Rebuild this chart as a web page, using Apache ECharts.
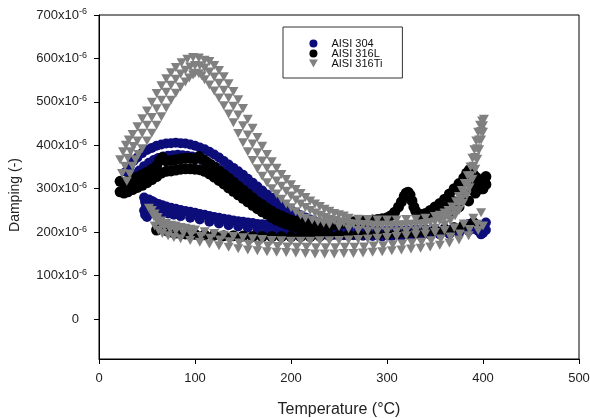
<!DOCTYPE html>
<html>
<head>
<meta charset="utf-8">
<script src="https://cdn.jsdelivr.net/npm/echarts@6/dist/echarts.min.js"></script>
<style>
  html, body { margin: 0; padding: 0; background: #fff; }
  #chart { width: 590px; height: 418px; }
</style>
</head>
<body>
<div id="chart"></div>
<script>
// tick values on the damping axis (x10^-6)
var yTicks = [0, 100, 200, 300, 400, 500, 600, 700];

// AISI 304: [temperature °C, damping x10^-6]
var aisi304 = [
  // upper arc, top edge
  [28,339],[32,352],[36,364],[40,372],[45,382],[50,389],[55,394],[60,399],[65,402],[70,404],[75,405],[80,406],[85,405],[90,404],[95,402],[100,399],[105,395],[110,391],[115,385],[120,379],[125,372],[130,364],[135,356],[140,348],[145,340],[150,332],[155,323],[160,314],[165,305],[170,296],[175,287],[180,279],[185,271],[190,264],[195,257],[200,251],[205,245],[210,239],[215,234],[220,229],[225,225],[230,221],[235,217],[240,214],
  // upper arc, bottom edge
  [30,312],[34,324],[38,334],[42,342],[47,352],[52,360],[57,366],[62,371],[67,374],[72,376],[77,377],[82,378],[87,377],[92,376],[97,374],[102,371],[107,367],[112,362],[117,356],[122,350],[127,343],[132,336],[137,328],[142,320],[147,312],[152,305],[157,296],[162,288],[167,279],[172,271],[177,262],[182,255],[187,247],[192,240],[197,234],[202,228],[207,222],[212,217],[217,213],[222,209],[227,206],[232,203],[237,200],
  // lower branch, top edge
  [47,280],[48,270],[49,260],[52,275],[55,272],[58,268],[62,265],[66,262],[70,259],[75,256],[80,254],[85,251],[90,249],[95,247],[100,245],[105,242],[110,240],[115,237],[120,235],[125,233],[130,231],[135,229],[140,227],[145,225],[150,224],[155,222],[160,221],[165,219],[170,218],[175,217],[180,216],[185,215],[190,214],[195,213],[200,212],[210,211],[220,210],[230,209],[240,208],[250,207],[260,207],[270,206],[280,205],[290,204],[300,204],[310,205],[320,205],[330,206],[340,207],[350,208],[360,209],[370,211],[380,214],[385,219],[390,222],[395,217],[400,212],[403,222],
  // lower branch, bottom edge
  [47,250],[48,240],[50,235],[53,245],[56,250],[60,251],[64,248],[68,245],[72,243],[78,240],[85,237],[95,233],[105,229],[115,224],[125,220],[135,216],[145,213],[155,210],[165,207],[175,205],[185,202],[195,200],[205,198],[215,197],[225,196],[235,195],[245,194],[255,193],[265,193],[275,192],[285,191],[295,190],[305,191],[315,191],[325,192],[335,193],[345,194],[355,195],[365,196],[375,198],[385,203],[390,208],[395,203],[400,198],[403,205],[398,195]
];

// AISI 316L
var aisi316L = [
  // upper arc, top edge
  [22,317],[26,314],[30,317],[35,322],[40,327],[45,332],[50,338],[55,345],[60,352],[63,364],[66,372],[70,364],[75,365],[80,367],[85,369],[90,370],[95,370],[100,369],[104,374],[108,368],[112,362],[116,356],[120,350],[125,341],[130,333],[135,324],[140,315],[145,306],[150,297],[155,288],[160,279],[165,270],[170,263],[175,255],[180,248],[185,242],[190,237],[195,232],[200,228],[205,225],[210,222],[215,220],[220,218],[225,216],[230,215],
  // upper arc, bottom edge
  [22,293],[26,290],[30,293],[35,298],[40,303],[45,308],[50,314],[55,321],[60,328],[65,336],[70,340],[75,341],[80,343],[85,345],[90,346],[95,346],[100,345],[105,344],[110,340],[115,334],[120,327],[125,319],[130,311],[135,302],[140,294],[145,286],[150,278],[155,270],[160,262],[165,254],[170,247],[175,241],[180,234],[185,228],[190,223],[195,219],[200,215],[205,212],[210,209],[215,207],[220,205],[225,204],[230,203],
  // high temperature part
  [235,212],[240,214],[245,217],[250,219],[255,221],[260,223],[265,224],[270,225],[275,226],[280,227],[285,228],[290,229],[295,231],[300,233],[304,238],[308,246],[312,258],[315,270],[318,283],[320,290],[322,292],[324,286],[326,272],[328,258],[330,248],[333,242],[336,240],[340,243],[345,250],[350,258],[355,266],[360,276],[365,288],[370,300],[375,312],[380,325],[383,336],[386,344],[388,340],[390,333],[393,326],[396,318],[399,312],[401,318],[403,328],[403,310],[400,300],[397,305],
  [335,232],[345,235],[355,240],[365,248],[375,258],[385,272],[392,290],[398,300],[350,245],[360,258],[370,270],[380,290],[388,310],
  // lower branch
  [60,205],[62,214],[64,222],[66,214],[68,206],[72,202],[76,200],[80,198],[90,196],[100,195],[110,194],[120,193],[130,192],[140,192],[150,191],[160,190],[170,190],[180,190],[190,190],[200,190],[210,190],[220,190],[230,191],[240,192],[250,193],[260,193],[270,194],[280,194],[290,195],[300,195],[310,196],[320,197],[330,198],[340,200],[350,203],[360,206],[370,210],[380,216],[390,222]
];

// AISI 316Ti
var aisi316Ti = [
  // upper arc, outer edge
  [22,367],[25,385],[28,400],[31,412],[35,425],[40,443],[45,461],[50,479],[55,499],[60,519],[65,537],[70,553],[75,567],[80,579],[86,590],[92,598],[98,602],[104,601],[110,596],[115,593],[120,584],[125,572],[130,558],[135,542],[140,524],[145,505],[150,485],[155,460],[160,439],[165,418],[170,398],[175,379],[180,362],[185,347],[190,333],[195,321],[200,309],[205,298],[210,289],[215,280],[220,272],[225,265],[230,259],[235,253],[240,248],[245,243],[250,240],[255,237],[260,232],[270,230],[280,229],[290,228],[300,228],[310,228],[320,229],[330,230],[340,232],[350,236],[355,239],[360,244],[364,250],[368,258],[372,270],[375,282],[378,296],[381,312],[384,330],[387,350],[389,370],[391,390],[393,410],[395,430],[397,446],[399,456],[401,460],
  // upper arc, middle
  [24,335],[27,352],[30,370],[33,385],[36,397],[40,410],[45,428],[50,446],[55,464],[60,484],[65,504],[70,522],[75,538],[80,552],[85,564],[90,573],[95,580],[100,584],[105,583],[110,578],[115,569],[120,557],[125,543],[130,527],[135,509],[140,490],[145,470],[150,445],[155,424],[160,403],[165,383],[170,364],[175,347],[180,332],[185,318],[190,306],[195,294],[200,283],[205,274],[210,265],[215,257],[220,250],[225,244],[230,239],[235,234],[240,230],[245,227],[250,224],[255,222],[260,220],[265,219],[270,218],[275,217],[280,217],[285,216],[290,216],[295,216],[300,216],[305,216],[310,216],[315,217],[320,217],[325,218],[330,218],[335,219],[340,220],[345,222],[350,224],[355,227],[360,232],[365,239],[370,249],[375,264],[378,277],[381,292],[384,310],[387,330],[390,352],[392,372],[394,392],[396,412],[398,432],[400,445],
  // upper arc, inner edge
  [29,317],[32,334],[35,352],[38,367],[41,379],[45,392],[50,410],[55,428],[60,446],[65,466],[70,486],[75,504],[80,520],[85,534],[90,546],[94,555],[98,562],[100,566],[104,565],[107,560],[110,551],[115,539],[120,525],[125,509],[130,491],[135,472],[140,452],[145,427],[150,406],[155,385],[160,365],[165,346],[170,329],[175,314],[180,300],[185,288],[190,276],[195,265],[200,256],[205,247],[210,239],[215,232],[222,228],[228,224],[234,221],[240,218],[250,213],[260,208],[270,204],[280,202],[290,201],[300,201],[310,201],[320,202],[330,203],[340,205],[350,209],[360,217],[366,227],[371,238],[375,250],[379,266],[383,284],[386,302],[389,322],[392,345],[394,368],[396,390],[398,412],[400,430],
  // lower branch, top edge
  [52,255],[55,250],[58,242],[61,234],[65,226],[70,220],[75,216],[80,214],[85,211],[90,209],[95,207],[100,205],[110,201],[120,197],[130,193],[140,190],[150,187],[160,185],[170,183],[180,181],[190,180],[200,179],[210,179],[220,179],[230,180],[240,180],[250,181],[260,182],[270,183],[280,184],[290,186],[300,188],[310,190],[320,192],[330,194],[340,196],[350,199],[360,204],[370,210],[380,219],[390,232],[398,245],
  // lower branch, middle
  [57,236],[60,228],[64,219],[68,212],[74,206],[80,202],[88,198],[96,194],[106,190],[116,186],[126,182],[136,178],[146,175],[156,172],[166,170],[176,168],[186,167],[196,166],[206,165],[216,165],[226,164],[236,164],[246,164],[256,165],[266,165],[276,166],[286,168],[296,169],[306,171],[316,173],[326,175],[336,177],[346,180],[356,184],[366,189],[376,196],[386,206],[394,218],
  // lower branch, bottom edge
  [58,214],[62,204],[66,197],[72,192],[78,188],[85,185],[95,181],[105,177],[115,173],[125,169],[135,165],[145,162],[155,159],[165,157],[175,155],[185,154],[195,153],[205,152],[215,151],[225,150],[235,150],[245,150],[255,151],[265,151],[275,152],[285,154],[295,155],[305,157],[315,159],[325,161],[335,163],[345,166],[355,170],[365,175],[375,182],[385,192],[395,204],[400,214]
];

var triDown = 'path://M0,0 L10,0 L5,9 Z';
var FONT = '"Liberation Sans", Arial, sans-serif';

var myChart = echarts.init(document.getElementById('chart'));
var option = {
    animation: false,
    textStyle: { fontFamily: FONT },
    grid: {
        left: 99, right: 11, top: 15, bottom: 59,
        outerBoundsMode: 'none',
        containLabel: false,
        show: true, borderColor: '#000', borderWidth: 1
    },
    legend: {
        orient: 'vertical',
        left: 283, top: 27,
        padding: [11, 20, 9, 26],
        itemGap: -1,
        itemWidth: 26, itemHeight: 8,
        borderColor: '#333', borderWidth: 1,
        textStyle: { fontSize: 11, color: '#111', fontFamily: FONT },
        data: [
            { name: 'AISI 304', icon: 'circle' },
            { name: 'AISI 316L', icon: 'circle' },
            { name: 'AISI 316Ti', icon: triDown }
        ]
    },
    graphic: [{
        type: 'text',
        x: 15, y: 195,
        rotation: Math.PI / 2,
        style: {
            text: 'Damping (-)',
            font: '14px "Liberation Sans", Arial, sans-serif',
            fill: '#222',
            textAlign: 'center',
            textVerticalAlign: 'middle'
        }
    }],
    xAxis: {
        type: 'value',
        min: 0, max: 500, interval: 100,
        name: 'Temperature (°C)',
        nameLocation: 'middle',
        nameGap: 43,
        nameTextStyle: { fontSize: 16, color: '#222' },
        axisLine: { onZero: false, lineStyle: { color: '#000' } },
        axisTick: { inside: false, length: 5, lineStyle: { color: '#000' } },
        axisLabel: { fontSize: 13, color: '#222', margin: 13 },
        splitLine: { show: false }
    },
    yAxis: {
        type: 'value',
        min: -92, max: 700,
        axisLine: { show: true, onZero: false, lineStyle: { color: '#000' } },
        axisTick: { show: true, length: 5, customValues: yTicks, lineStyle: { color: '#000' } },
        axisLabel: {
            customValues: yTicks,
            margin: 12,
            formatter: function (v) {
                return v === 0 ? '{a|0}{p|}' : '{a|' + v + 'x10}{b|-6}';
            },
            rich: {
                a: { fontSize: 13, color: '#222', lineHeight: 15, fontFamily: FONT },
                b: { fontSize: 9, color: '#222', verticalAlign: 'top', lineHeight: 9, fontFamily: FONT },
                p: { width: 8, fontSize: 13, lineHeight: 15 }
            }
        },
        splitLine: { show: false }
    },
    series: [
        {
            name: 'AISI 304', type: 'scatter',
            symbol: 'circle', symbolSize: 10,
            itemStyle: { color: '#0d0d7a', opacity: 1 },
            data: aisi304
        },
        {
            name: 'AISI 316L', type: 'scatter',
            symbol: 'circle', symbolSize: 11,
            itemStyle: { color: '#000000', opacity: 1 },
            data: aisi316L
        },
        {
            name: 'AISI 316Ti', type: 'scatter',
            symbol: triDown, symbolSize: [10, 9],
            itemStyle: { color: '#808080', opacity: 1 },
            data: aisi316Ti
        }
    ]
};
myChart.setOption(option, true);
</script>
</body>
</html>
